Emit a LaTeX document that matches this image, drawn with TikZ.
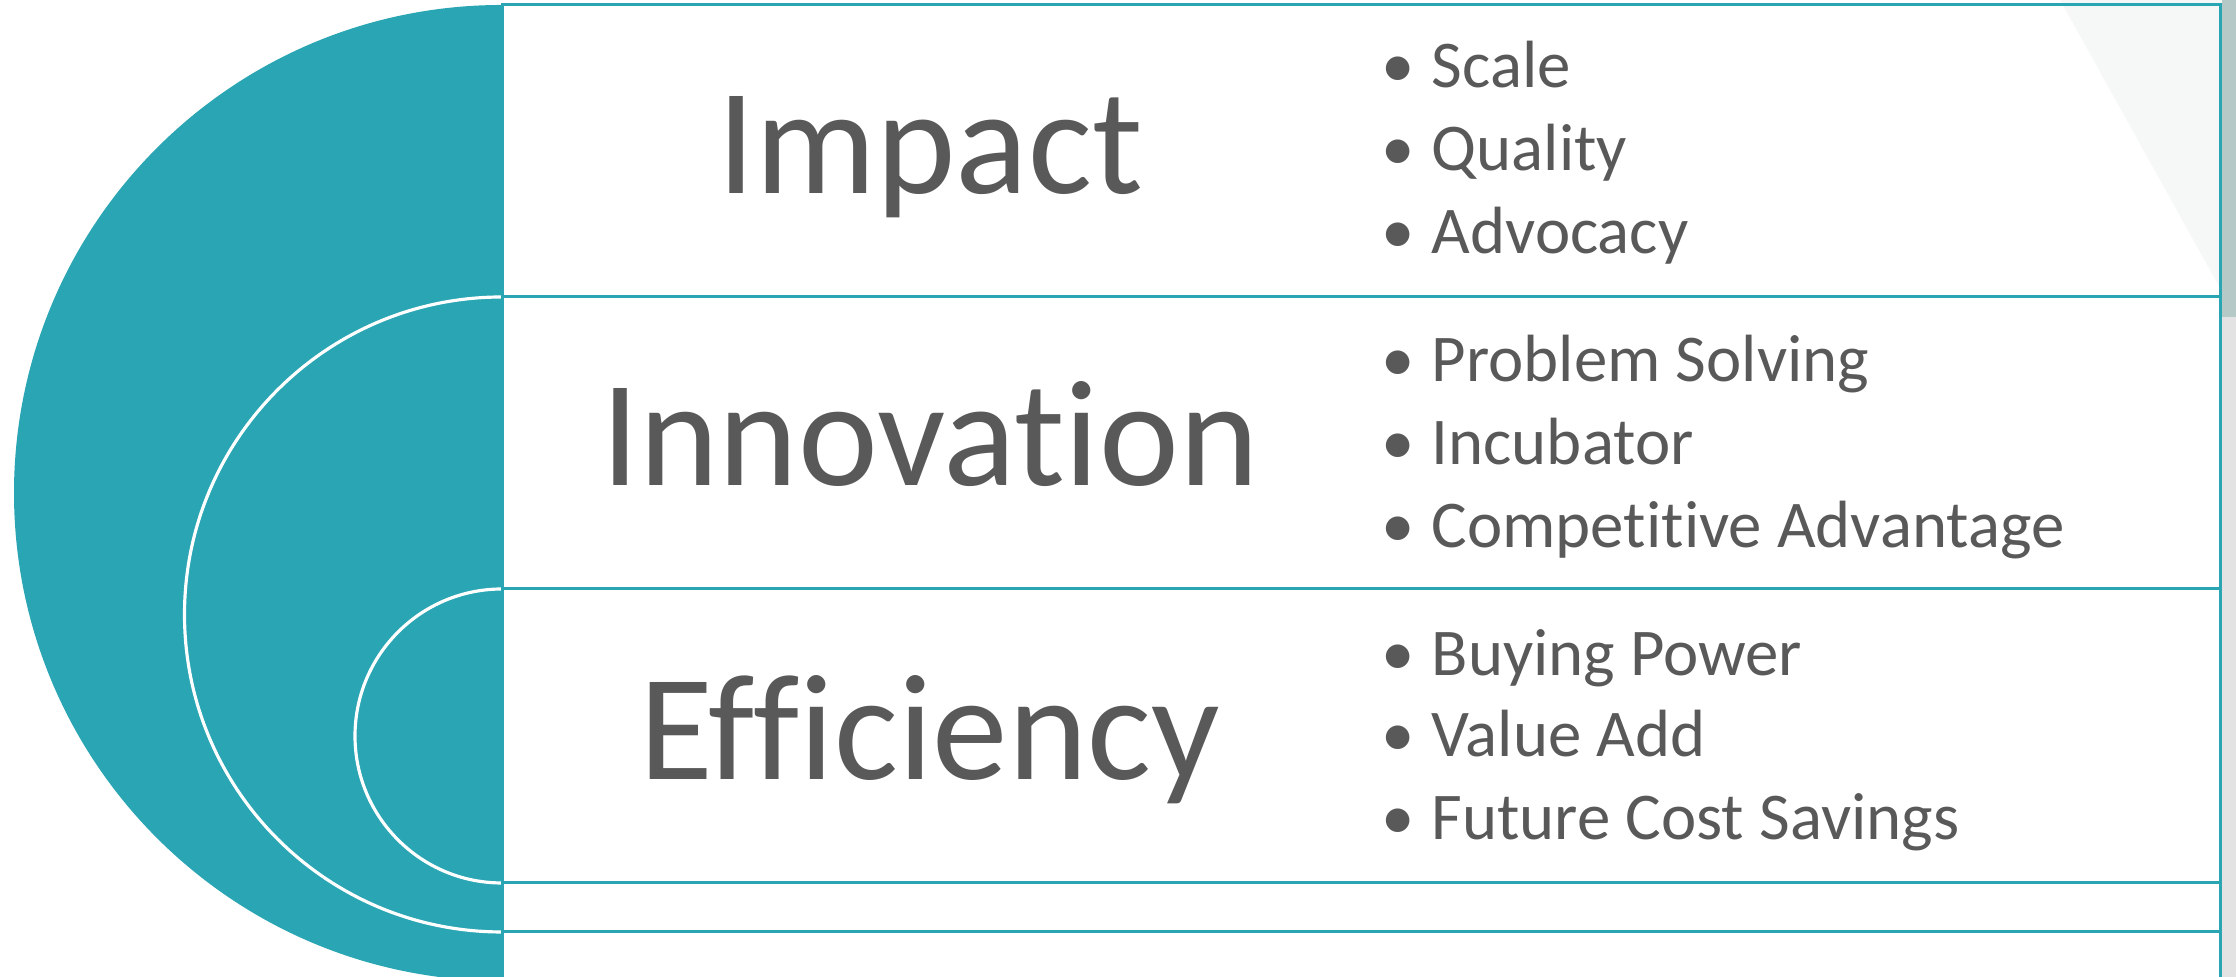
\documentclass[tikz,border=0pt]{standalone}
\usepackage{fontspec}
\setmainfont[Ligatures=NoCommon]{Carlito}
\usepackage{tikz}
\definecolor{tealfill}{RGB}{41,165,179}
\definecolor{textgray}{RGB}{89,89,89}
\definecolor{sidegray}{RGB}{181,202,198}
\definecolor{paleshade}{RGB}{246,248,248}
\newcommand{\bul}{\llap{\textbullet\hspace{0.17cm}}}

\begin{document}
\begin{tikzpicture}[
  % one unit is one pixel of the 2236 x 977 slide crop
  x=0.01cm,
  y=0.01cm,
  rowline/.style={draw=tealfill, line width=0.85pt},
  ringline/.style={draw=white, line width=0.9pt},
  bigword/.style={text=textgray, anchor=base, font=\fontsize{43}{50}\selectfont},
  item/.style={text=textgray, anchor=base west, inner sep=0pt, font=\fontsize{19}{23}\selectfont}
]
\useasboundingbox (0,0) rectangle (2236,977);
\clip (0,0) rectangle (2236,977);

% Slide background bits on the right
\fill[paleshade] (2060,977) -- (2236,977) -- (2236,660) -- cycle;
\fill[gray!22] (2222,0) rectangle (2236,977);
\fill[sidegray] (2222,660) rectangle (2236,977);

% Teal half disc with the two white rings
\fill[tealfill] (502,972) arc[start angle=90, end angle=270, radius=488] -- cycle;
\draw[ringline] (502,680) arc[start angle=90, end angle=270, radius=317.5];
\draw[ringline] (502,388) arc[start angle=90, end angle=270, radius=147];

% Rows (top to bottom)
\draw[rowline] (502,972) rectangle (2220,680);
\draw[rowline] (502,680) rectangle (2220,388);
\draw[rowline] (502,388) rectangle (2220,94);
\draw[rowline] (502,94) rectangle (2220,45);
\draw[rowline] (502,45) rectangle (2220,-30);

% 1) Impact
\node[bigword] (impact) at (930,783) {Impact};
\node[item] (scale) at (1431,889) {\bul Scale};
\node[item] (quality) at (1431,806) {\bul Quality};
\node[item] (advocacy) at (1431,723) {\bul Advocacy};

% 2) Innovation
\node[bigword] (innovation) at (930,491) {Innovation};
\node[item] (problem) at (1431,595) {\bul Problem Solving};
\node[item] (incubator) at (1431,512) {\bul Incubator};
\node[item] (competitive) at (1431,429) {\bul Competitive Advantage};

% 3) Efficiency
\node[bigword] (efficiency) at (930,197) {Efficiency};
\node[item] (buying) at (1431,301) {\bul Buying Power};
\node[item] (valueadd) at (1431,220) {\bul Value Add};
\node[item] (future) at (1431,137) {\bul Future Cost Savings};

\end{tikzpicture}
\end{document}
